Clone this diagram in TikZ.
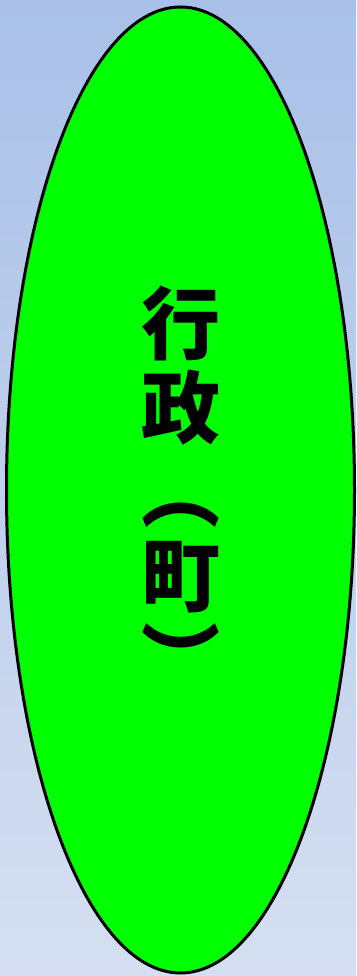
\documentclass[tikz,border=0pt]{standalone}
\usepackage{fontspec}
\newfontfamily\cjk{Noto Sans CJK JP}
\usetikzlibrary{shapes.geometric}
\definecolor{bgtop}{HTML}{A9C0E8}
\definecolor{bgbottom}{HTML}{D5DFF1}
\definecolor{cgreen}{HTML}{00FF00}
\tikzset{
  every picture/.style={x=1pt, y=1pt},
  blob/.style={ellipse, draw=black, fill=cgreen, line width=3pt, inner sep=0pt, align=center},
  label/.style={font=\cjk\bfseries\fontsize{79}{84}\selectfont, align=center, inner sep=0pt},
}

\begin{document}
\begin{tikzpicture}
  % background
  \shade[top color=bgtop, bottom color=bgbottom] (0,0) rectangle (356,976);
  \useasboundingbox (0,0) rectangle (356,976);
  % ellipse with vertical text
  \node[blob, minimum width=348, minimum height=966] (gyosei) at (180.5,486) {};
  \node[label] (name) at ([yshift=2]gyosei.center) {行\\政\\︵\\町\\︶};
\end{tikzpicture}
\end{document}
